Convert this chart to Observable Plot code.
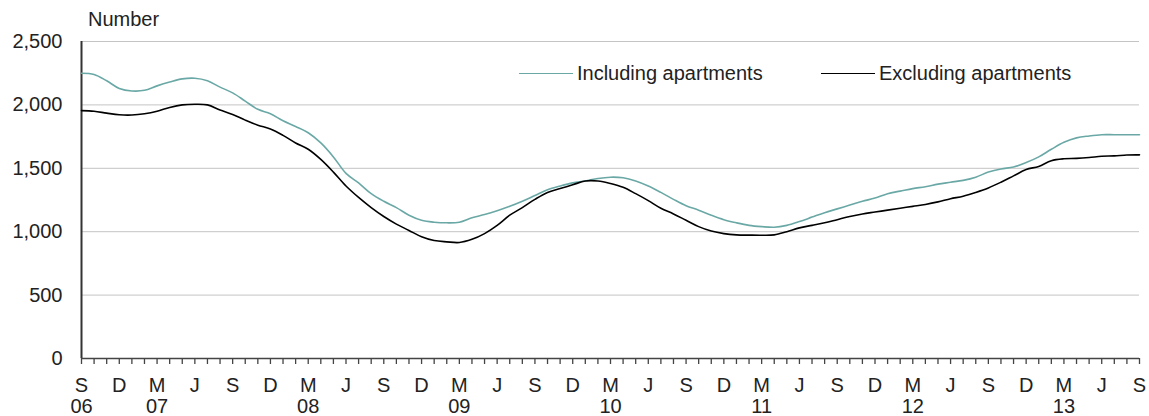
<!DOCTYPE html>
<html>
<head>
<meta charset="utf-8">
<script src="https://cdn.jsdelivr.net/npm/d3@7"></script>
<script src="https://cdn.jsdelivr.net/npm/@observablehq/plot@0.6"></script>
<style>
  html, body { margin: 0; padding: 0; background: #fff; }
  #wrap { position: relative; width: 1149px; height: 416px; font-family: "Liberation Sans", Arial, sans-serif; }
  #unit { position: absolute; left: 88px; top: 8px; font-size: 20px; color: #222; }
  .leg { position: absolute; top: 62px; display: flex; align-items: center; font-size: 20px; color: #222; white-space: nowrap; }
  .leg span.sw { display: inline-block; width: 54px; height: 0; border-top: 1.6px solid; margin-right: 4px; }
</style>
</head>
<body>
<div id="wrap">
  <div id="chart"></div>
  <div id="unit">Number</div>
  <div class="leg" style="left:519px"><span class="sw" style="border-color:#6aa8a6"></span>Including apartments</div>
  <div class="leg" style="left:821px"><span class="sw" style="border-color:#000"></span>Excluding apartments</div>
</div>
<script>
// Monthly values, Sep 2006 (index 0) to Sep 2013 (index 84)
const including = [
  2250, 2240, 2190, 2130, 2110, 2115, 2150, 2180, 2205, 2210, 2190, 2140,
  2095, 2030, 1965, 1930, 1875, 1830, 1780, 1700, 1590, 1460, 1385, 1300,
  1240, 1190, 1130, 1090, 1075, 1070, 1075, 1110, 1135, 1165, 1200, 1240,
  1285, 1330, 1360, 1385, 1400, 1420, 1430, 1425, 1400, 1360, 1310, 1255,
  1205, 1170, 1130, 1095, 1070, 1050, 1040, 1035, 1050, 1080, 1115, 1150,
  1180, 1210, 1240, 1265, 1300, 1320, 1340, 1355, 1375, 1390, 1405, 1430,
  1470, 1495, 1510, 1545, 1590, 1650, 1705, 1740, 1755, 1765, 1765, 1765,
  1765
];
const excluding = [
  1955, 1950, 1935, 1922, 1920, 1930, 1950, 1980, 2000, 2005, 2000, 1960,
  1925, 1880, 1840, 1810, 1760, 1700, 1650, 1570, 1470, 1360, 1270, 1190,
  1120, 1060, 1010, 960, 930, 920, 915, 940, 985, 1050, 1130, 1190,
  1255, 1310, 1340, 1370, 1400, 1400, 1380, 1350, 1300, 1245, 1185, 1140,
  1090, 1040, 1005, 985, 975, 973, 972, 975, 1000, 1030, 1050, 1070,
  1095, 1120, 1140, 1155, 1170, 1185, 1200, 1215, 1235, 1260, 1280, 1310,
  1345, 1390, 1440, 1490, 1515, 1560, 1575, 1578, 1585, 1595, 1598, 1605,
  1606
];
const tickLabels = [
  "S\n06", "D", "M\n07", "J", "S", "D", "M\n08", "J", "S", "D",
  "M\n09", "J", "S", "D", "M\n10", "J", "S", "D", "M\n11", "J",
  "S", "D", "M\n12", "J", "S", "D", "M\n13", "J", "S"
];
const yTicks = [0, 500, 1000, 1500, 2000, 2500];

const monthIdx = d3.range(including.length);
const labelIdx = d3.range(0, including.length, 3);
const rows = monthIdx.flatMap(i => [
  {i, v: including[i], s: "Including apartments"},
  {i, v: excluding[i], s: "Excluding apartments"}
]);

const plot = Plot.plot({
  width: 1149,
  height: 416,
  marginLeft: 81,
  marginRight: 10,
  marginTop: 41,
  marginBottom: 58,
  style: {fontFamily: "'Liberation Sans', Arial, sans-serif", background: "#fff"},
  x: {domain: [0, including.length - 1]},
  y: {domain: [0, 2500]},
  color: {domain: ["Including apartments", "Excluding apartments"], range: ["#6aa8a6", "#000000"]},
  marks: [
    Plot.gridY(yTicks.filter(d => d > 0), {stroke: "#c4c4c4", strokeOpacity: 1, strokeWidth: 1}),
    Plot.axisY(yTicks, {tickSize: 0, tickPadding: 19, tickFormat: d3.format(","), fontSize: 20, fill: "#222", label: null}),
    Plot.axisX(monthIdx, {tickSize: 6, tickFormat: () => "", stroke: "#444", strokeWidth: 1.3, label: null}),
    Plot.axisX(labelIdx, {tickSize: 0, tickPadding: 19, tickFormat: (d, k) => tickLabels[k], fontSize: 20, lineHeight: 1.05, fill: "#222", label: null}),
    Plot.ruleX([0], {stroke: "#333", strokeWidth: 2}),
    Plot.ruleY([0], {stroke: "#444", strokeWidth: 1.6}),
    Plot.line(rows, {x: "i", y: "v", z: "s", stroke: "s", strokeWidth: 1.6, curve: "catmull-rom"})
  ]
});
document.getElementById("chart").appendChild(plot);
</script>
</body>
</html>
